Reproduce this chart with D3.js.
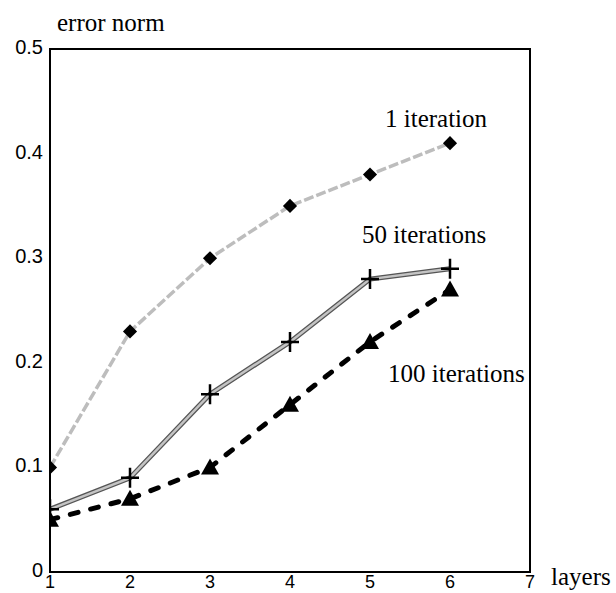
<!DOCTYPE html>
<html>
<head>
<meta charset="utf-8">
<script src="https://cdn.jsdelivr.net/npm/d3@7"></script>
<style>
  body { margin: 0; background: #fff; }
  .serif { font-family: "Liberation Serif", "DejaVu Serif", serif; font-size: 25px; fill: #000; }
  .tick-label { font-family: "Liberation Sans", Arial, sans-serif; font-size: 20px; fill: #000; }
</style>
</head>
<body>
<div id="chart"></div>
<script>
const layers = [1, 2, 3, 4, 5, 6];
const iter1 = [0.10, 0.23, 0.30, 0.35, 0.38, 0.41];
const iter50 = [0.06, 0.09, 0.17, 0.22, 0.28, 0.29];
const iter100 = [0.05, 0.07, 0.10, 0.16, 0.22, 0.27];
const xTicks = [1, 2, 3, 4, 5, 6, 7];
const yTicks = [0, 0.1, 0.2, 0.3, 0.4, 0.5];
const yTickLabels = ['0', '0.1', '0.2', '0.3', '0.4', '0.5'];

const width = 616;
const height = 593;

const svg = d3.select('#chart').append('svg')
  .attr('width', width)
  .attr('height', height);

// scales
const xScale = d3.scaleLinear().domain([1, 7]).range([50, 530]);
const yScale = d3.scaleLinear().domain([0, 0.5]).range([572, 49]);

const x0 = xScale(1), x1 = xScale(7), yTop = yScale(0.5), yBot = yScale(0);

svg.append('clipPath').attr('id', 'plot')
  .append('rect')
  .attr('x', x0).attr('y', yTop)
  .attr('width', x1 - x0).attr('height', yBot - yTop);

const line = d3.line()
  .x(d => xScale(d[0]))
  .y(d => yScale(d[1]));

const pts = vals => layers.map((l, i) => [l, vals[i]]);

const plot = svg.append('g').attr('clip-path', 'url(#plot)');

// 1 iteration: light stippled dashes
plot.append('path')
  .attr('d', line(pts(iter1)))
  .attr('fill', 'none')
  .attr('stroke', '#bdbdbd')
  .attr('stroke-width', 3.5)
  .attr('stroke-dasharray', '10,3');

// 50 iterations: double line
plot.append('path')
  .attr('d', line(pts(iter50)))
  .attr('fill', 'none')
  .attr('stroke', '#555')
  .attr('stroke-width', 5);
plot.append('path')
  .attr('d', line(pts(iter50)))
  .attr('fill', 'none')
  .attr('stroke', '#c4c4c4')
  .attr('stroke-width', 2.5);

// 100 iterations: heavy black dashes
plot.append('path')
  .attr('d', line(pts(iter100)))
  .attr('fill', 'none')
  .attr('stroke', '#000')
  .attr('stroke-width', 5)
  .attr('stroke-linecap', 'round')
  .attr('stroke-dasharray', '8,13');

// markers
plot.selectAll('.diamond')
  .data(pts(iter1))
  .enter().append('path')
  .attr('class', 'diamond')
  .attr('d', d3.symbol().type(d3.symbolSquare).size(100))
  .attr('transform', d => `translate(${xScale(d[0])},${yScale(d[1])}) rotate(45)`)
  .attr('fill', '#000');

plot.selectAll('.cross')
  .data(pts(iter50))
  .enter().append('path')
  .attr('class', 'cross')
  .attr('d', 'M-9,0H9M0,-10V10')
  .attr('transform', d => `translate(${xScale(d[0])},${yScale(d[1])})`)
  .attr('stroke', '#000')
  .attr('stroke-width', 2.5)
  .attr('fill', 'none');

plot.selectAll('.tri')
  .data(pts(iter100))
  .enter().append('path')
  .attr('class', 'tri')
  .attr('d', 'M0,-9L9,7L-9,7Z')
  .attr('transform', d => `translate(${xScale(d[0])},${yScale(d[1])})`)
  .attr('fill', '#000');

// frame
svg.append('rect')
  .attr('x', x0).attr('y', yTop)
  .attr('width', x1 - x0).attr('height', yBot - yTop)
  .attr('fill', 'none')
  .attr('stroke', '#000')
  .attr('stroke-width', 2);

// tick labels
svg.selectAll('.ylab')
  .data(yTicks)
  .enter().append('text')
  .attr('class', 'tick-label')
  .attr('x', 43)
  .attr('y', d => yScale(d) + 5)
  .attr('text-anchor', 'end')
  .text((d, i) => yTickLabels[i]);

svg.selectAll('.xlab')
  .data(xTicks)
  .enter().append('text')
  .attr('class', 'tick-label')
  .attr('x', d => xScale(d))
  .attr('y', 588)
  .style('font-size', '18px')
  .attr('text-anchor', 'middle')
  .text(d => d);

// axis titles
svg.append('text').attr('class', 'serif')
  .attr('x', 57).attr('y', 31)
  .text('error norm');

svg.append('text').attr('class', 'serif')
  .attr('x', 551).attr('y', 585)
  .text('layers');

// series labels
svg.append('text').attr('class', 'serif')
  .attr('x', 385).attr('y', 127)
  .text('1 iteration');

svg.append('text').attr('class', 'serif')
  .attr('x', 362).attr('y', 243)
  .text('50 iterations');

svg.append('text').attr('class', 'serif')
  .attr('x', 388).attr('y', 382)
  .text('100 iterations');
</script>
</body>
</html>
